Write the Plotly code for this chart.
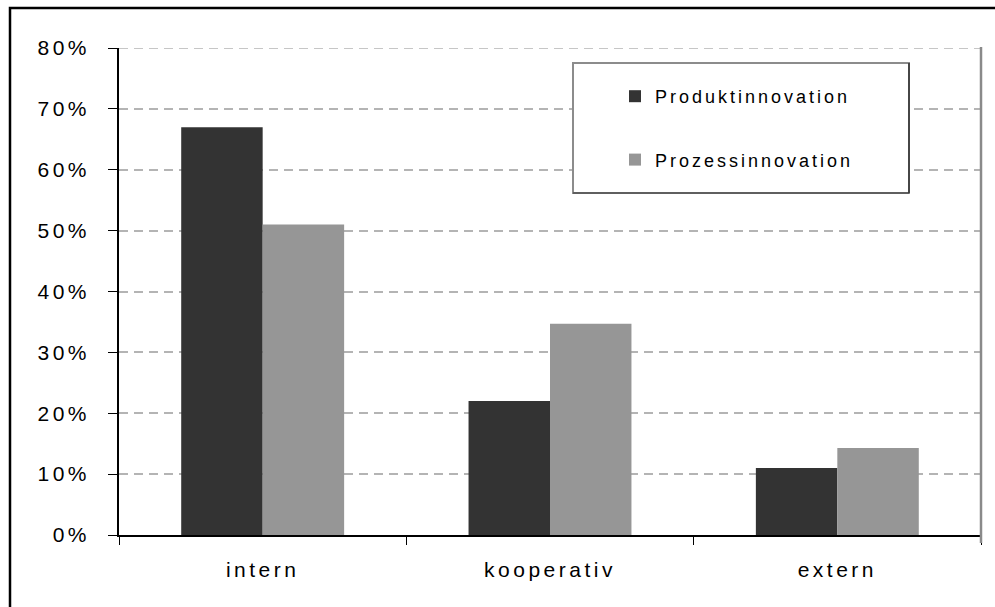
import plotly.graph_objects as go

# ---- data ----
categories = ["intern", "kooperativ", "extern"]
produktinnovation = [0.67, 0.22, 0.11]
prozessinnovation = [0.51, 0.347, 0.143]
series_names = ["Produktinnovation", "Prozessinnovation"]
y_tick_values = [0.0, 0.1, 0.2, 0.3, 0.4, 0.5, 0.6, 0.7, 0.8]
y_tick_labels = ["0%", "10%", "20%", "30%", "40%", "50%", "60%", "70%", "80%"]

# ---- geometry helpers (pixel -> paper) ----
W, H = 995, 607
L, R, T, B = 119, 981, 48, 535


def px(x):
    return (x - L) / (R - L)


def py(y):
    return (B - y) / (B - T)


def spaced(s, sp):
    return f'<span style="letter-spacing:{sp}px">{s}</span>'


FONT = "Liberation Sans, Arial, sans-serif"
GRID = "#b4b4b4"

fig = go.Figure()
fig.add_trace(go.Bar(
    x=categories, y=produktinnovation, name=spaced(series_names[0], 3),
    marker=dict(color="#333333", line=dict(width=0)), legendgroup="a",
))
fig.add_trace(go.Bar(
    x=categories, y=prozessinnovation, name=spaced(series_names[1], 3),
    marker=dict(color="#969696", line=dict(width=0)), legendgroup="b",
))

shapes = [
    # top gridline (at the range end) drawn on the y scale
    dict(type="line", xref="paper", yref="y",
         x0=0, x1=1, y0=y_tick_values[-1], y1=y_tick_values[-1],
         line=dict(color=GRID, width=1.5, dash="9px,6px"), layer="below"),
    # legend box
    dict(type="rect", xref="paper", yref="paper",
         x0=px(573), x1=px(909), y0=py(193), y1=py(63),
         fillcolor="white", line=dict(color="#8c8c8c", width=2), layer="above"),
    dict(type="line", xref="paper", yref="paper",
         x0=px(909), x1=px(909), y0=py(193), y1=py(63),
         line=dict(color="black", width=1), layer="above"),
    dict(type="line", xref="paper", yref="paper",
         x0=px(573), x1=px(909), y0=py(193), y1=py(193),
         line=dict(color="#333333", width=1), layer="above"),
    # right gray border of plot area
    dict(type="line", xref="paper", yref="paper",
         x0=1, x1=1, y0=py(543), y1=py(47),
         line=dict(color="#8a8a8a", width=2.5), layer="above"),
    # outer chart border (top and left visible)
    dict(type="path", xref="paper", yref="paper",
         path=f"M {px(10)} {py(620)} L {px(10)} {py(8)} L {px(1010)} {py(8)}",
         line=dict(color="black", width=2.5), layer="above"),
]

fig.update_layout(
    width=W, height=H,
    margin=dict(l=L, r=W - R, t=T, b=H - B, autoexpand=False),
    paper_bgcolor="white", plot_bgcolor="white",
    font=dict(family=FONT, color="black"),
    barmode="group", bargap=0.433, bargroupgap=0,
    showlegend=True,
    legend=dict(
        x=px(615), xanchor="left", y=py(78), yanchor="top",
        bgcolor="rgba(0,0,0,0)", borderwidth=0,
        font=dict(family=FONT, size=18, color="black"),
        traceorder="grouped", tracegroupgap=37,
    ),
    shapes=shapes,
)

fig.update_xaxes(
    type="category", range=[-0.5, 2.5],
    tickmode="array", tickvals=categories,
    ticktext=[spaced(c, 3.5) for c in categories],
    tickson="boundaries", ticks="outside", ticklen=8, tickwidth=1, tickcolor="black",
    showline=True, linecolor="black", linewidth=1.5,
    showgrid=False, zeroline=False,
    tickfont=dict(family=FONT, size=21, color="black"),
    ticklabelstandoff=15,
)
fig.update_yaxes(
    range=[0, 0.8],
    tickmode="array", tickvals=y_tick_values,
    ticktext=[spaced(t, 3.5) for t in y_tick_labels],
    ticks="outside", ticklen=9, tickwidth=1, tickcolor="black",
    showline=True, linecolor="black", linewidth=1.5,
    showgrid=True, gridcolor=GRID, gridwidth=1.5, griddash="9px,6px",
    zeroline=False,
    tickfont=dict(family=FONT, size=21, color="black"),
    ticklabelstandoff=14,
)

fig.write_html(
    "out.html",
    config={"displayModeBar": False},
    post_script="document.body.style.margin='0';document.body.style.overflow='hidden';",
)
